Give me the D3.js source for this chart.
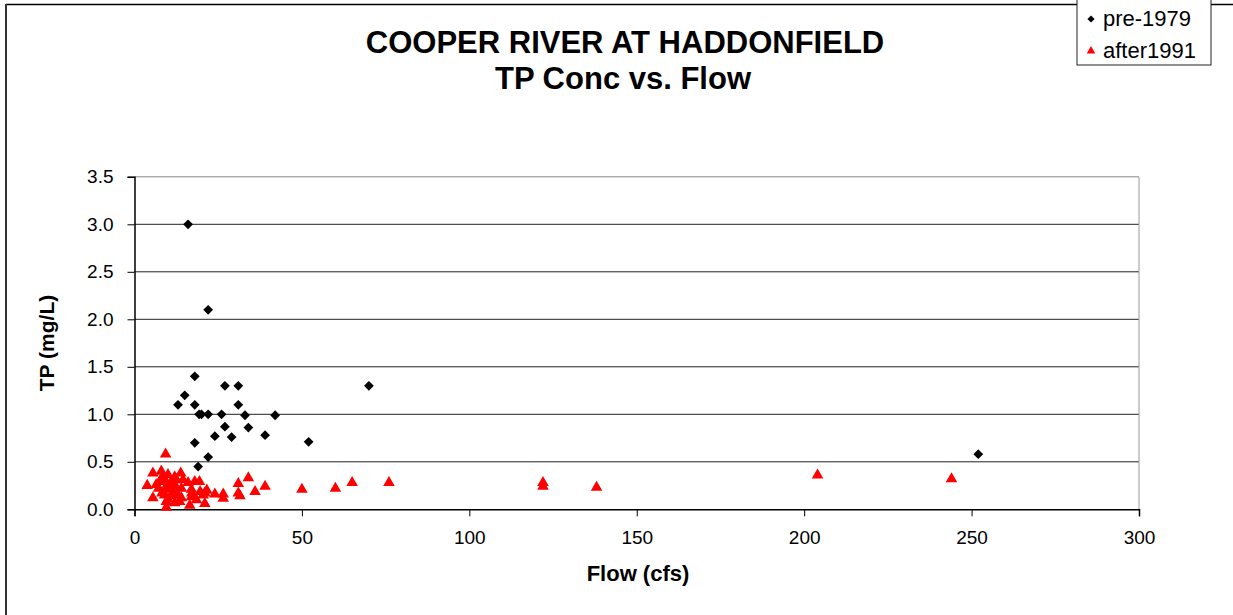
<!DOCTYPE html>
<html>
<head>
<meta charset="utf-8">
<script src="https://cdn.jsdelivr.net/npm/d3@7"></script>
<style>
  body { margin: 0; background: #fff; }
  text { font-family: "Liberation Sans", Arial, sans-serif; }
</style>
</head>
<body>
<svg id="chart" width="1233" height="615"></svg>
<script>
// pre-1979 samples [flow cfs, TP mg/L]
const pre1979 = [
  [16, 3.0], [22, 2.1], [18, 1.4], [27, 1.3], [31, 1.3], [70, 1.3],
  [15, 1.2], [13, 1.1], [18, 1.1], [31, 1.1], [19.3, 1.0], [20, 1.0],
  [22, 1.0], [26, 1.0], [33, 0.99], [42, 0.99], [27, 0.87], [34, 0.86],
  [24, 0.77], [29, 0.76], [39, 0.78], [52, 0.71], [18, 0.7], [22, 0.55],
  [19, 0.45], [252, 0.58]
];
// after1991 samples
const after1991 = [
  [9.3, 0.58], [5.5, 0.38], [8, 0.40], [10, 0.365], [13.8, 0.38], [3.8, 0.25],
  [5.5, 0.12], [7.5, 0.29], [9, 0.31], [11, 0.29], [12.5, 0.31], [14.5, 0.31],
  [7.2, 0.22], [9, 0.21], [10.5, 0.22], [12, 0.21], [14, 0.22], [16, 0.28],
  [18, 0.29], [19.4, 0.29], [17, 0.21], [9, 0.15], [11, 0.14], [13, 0.15],
  [9.5, 0.08], [12, 0.066], [9.5, 0.02], [13.5, 0.08], [17, 0.13], [18.5, 0.10],
  [16.5, 0.04], [21, 0.17], [21, 0.06], [8.2, 0.17], [6.5, 0.26], [17.1, 0.17],
  [19.6, 0.185], [21.6, 0.20], [20.5, 0.15], [24, 0.16], [26.5, 0.16], [26.5, 0.115],
  [31, 0.27], [34, 0.33], [31, 0.17], [31.5, 0.14], [36, 0.185], [39, 0.24],
  [10, 0.25], [12, 0.26], [11.5, 0.18], [10, 0.11], [14, 0.12], [8.5, 0.35], [12, 0.34],
  [50, 0.21], [60, 0.22], [65, 0.28], [76, 0.28], [122, 0.28], [122, 0.24],
  [138, 0.23], [204, 0.36], [244, 0.32]
];
const xTicks = [0, 50, 100, 150, 200, 250, 300];
const yTicks = [0, 0.5, 1.0, 1.5, 2.0, 2.5, 3.0, 3.5];

const svg = d3.select("#chart");
const plot = {left: 134.5, right: 1139, top: 176.8, bottom: 509.3};

// chart frame
svg.append("line").attr("x1", 6).attr("x2", 1233).attr("y1", 4.5).attr("y2", 4.5)
  .attr("stroke", "#000").attr("stroke-width", 1.5);
svg.append("line").attr("x1", 6).attr("x2", 6).attr("y1", 4).attr("y2", 615)
  .attr("stroke", "#333").attr("stroke-width", 2);

const x = d3.scaleLinear().domain([0, 300]).range([plot.left, plot.right]);
const y = d3.scaleLinear().domain([0, 3.5]).range([plot.bottom, plot.top]);

// gridlines
svg.append("g").selectAll("line").data(yTicks.slice(1)).join("line")
  .attr("x1", plot.left).attr("x2", plot.right)
  .attr("y1", d => y(d)).attr("y2", d => y(d))
  .attr("stroke", d => d === 3.5 ? "#888" : "#222").attr("stroke-width", 1);
svg.append("line").attr("x1", plot.right).attr("x2", plot.right)
  .attr("y1", plot.top).attr("y2", plot.bottom).attr("stroke", "#999");

// axes
const xAxis = svg.append("g").attr("transform", `translate(0,${plot.bottom})`)
  .call(d3.axisBottom(x).tickValues(xTicks).tickSize(7).tickPadding(14).tickFormat(d3.format("d")));
const yAxis = svg.append("g").attr("transform", `translate(${plot.left},0)`)
  .call(d3.axisLeft(y).tickValues(yTicks).tickSize(7).tickPadding(14).tickFormat(d3.format(".1f")));
[xAxis, yAxis].forEach(a => {
  a.select(".domain").attr("stroke", "#000").attr("stroke-width", 1.5);
  a.selectAll(".tick line").attr("stroke", "#000");
  a.selectAll("text").attr("font-size", 19).attr("fill", "#000")
    .attr("font-family", "Liberation Sans, Arial, sans-serif");
});

// points
const diamond = d3.symbol().type(d3.symbolSquare).size(48);
const tri = d3.symbol().type(d3.symbolTriangle).size(58);
svg.append("g").selectAll("path").data(pre1979).join("path")
  .attr("d", diamond())
  .attr("transform", d => `translate(${x(d[0])},${y(d[1])}) rotate(45)`)
  .attr("fill", "#000");
svg.append("g").selectAll("path").data(after1991).join("path")
  .attr("d", tri())
  .attr("transform", d => `translate(${x(d[0])},${y(d[1])})`)
  .attr("fill", "#ff0000");

// titles
svg.append("text").attr("x", 625).attr("y", 53).attr("text-anchor", "middle")
  .attr("font-size", 31).attr("font-weight", "bold").text("COOPER RIVER AT HADDONFIELD");
svg.append("text").attr("x", 623).attr("y", 89).attr("text-anchor", "middle")
  .attr("font-size", 31).attr("font-weight", "bold").text("TP Conc vs. Flow");
svg.append("text").attr("x", 638).attr("y", 581).attr("text-anchor", "middle")
  .attr("font-size", 22).attr("font-weight", "bold").text("Flow (cfs)");
svg.append("text").attr("transform", "translate(54,343) rotate(-90)").attr("text-anchor", "middle")
  .attr("font-size", 21).attr("font-weight", "bold").text("TP (mg/L)");

// legend
const lg = svg.append("g");
lg.append("rect").attr("x", 1077).attr("y", -1).attr("width", 134).attr("height", 66)
  .attr("fill", "#fff").attr("stroke", "#222").attr("stroke-width", 1);
lg.append("path").attr("d", d3.symbol().type(d3.symbolSquare).size(26)())
  .attr("transform", "translate(1091,19) rotate(45)").attr("fill", "#000");
lg.append("path").attr("d", d3.symbol().type(d3.symbolTriangle).size(32)())
  .attr("transform", "translate(1091,51)").attr("fill", "#ff0000");
lg.append("text").attr("x", 1103).attr("y", 26).attr("font-size", 22).text("pre-1979");
lg.append("text").attr("x", 1103).attr("y", 58).attr("font-size", 22).text("after1991");
</script>
</body>
</html>
